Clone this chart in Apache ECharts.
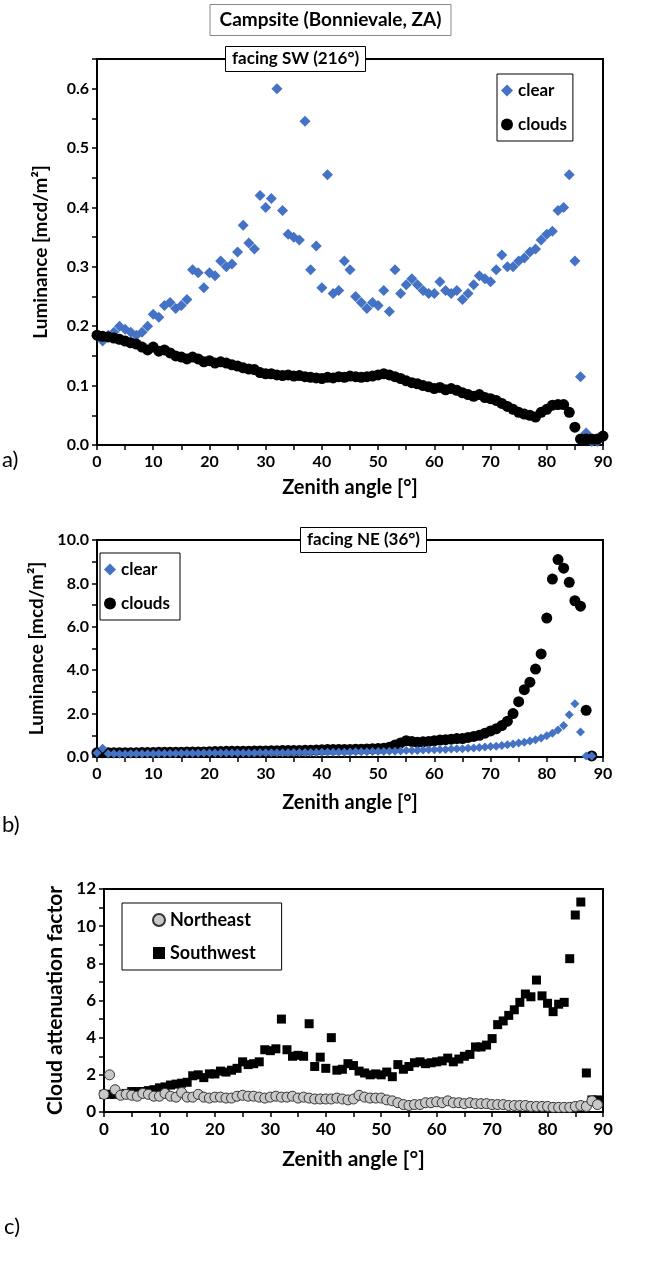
<!DOCTYPE html>
<html>
<head>
<meta charset="utf-8">
<script src="https://cdn.jsdelivr.net/npm/echarts@6/dist/echarts.min.js"></script>
<style>
html,body{margin:0;padding:0;background:#fff;}
#chart{width:661px;height:1273px;}
</style>
</head>
<body>
<div id="chart"></div>
<script>
// Zenith angles (degrees)
const angles = [0,1,2,3,4,5,6,7,8,9,10,11,12,13,14,15,16,17,18,19,20,21,22,23,24,25,26,27,28,29,30,31,32,33,34,35,36,37,38,39,40,41,42,43,44,45,46,47,48,49,50,51,52,53,54,55,56,57,58,59,60,61,62,63,64,65,66,67,68,69,70,71,72,73,74,75,76,77,78,79,80,81,82,83,84,85,86,87,88,89,90];

// a) facing SW – luminance [mcd/m²]
const swClear = [null,0.175,0.185,0.19,0.20,0.195,0.19,0.185,0.19,0.20,0.22,0.215,0.235,0.24,0.23,0.235,0.245,0.295,0.29,0.265,0.29,0.285,0.31,0.30,0.305,0.325,0.37,0.34,0.33,0.42,0.40,0.415,0.60,0.395,0.355,0.35,0.345,0.545,0.295,0.335,0.265,0.455,0.255,0.26,0.31,0.295,0.25,0.24,0.23,0.24,0.235,0.26,0.225,0.295,0.255,0.27,0.28,0.27,0.26,0.255,0.255,0.275,0.26,0.255,0.26,0.245,0.255,0.27,0.285,0.28,0.275,0.295,0.32,0.30,0.30,0.31,0.315,0.325,0.33,0.345,0.355,0.36,0.395,0.40,0.455,0.31,0.115,0.02,0.006,0.006,null];
const swClouds = [0.185,0.183,0.182,0.18,0.178,0.175,0.172,0.17,0.165,0.16,0.165,0.158,0.16,0.155,0.15,0.148,0.145,0.148,0.145,0.14,0.142,0.138,0.14,0.138,0.135,0.133,0.13,0.128,0.127,0.122,0.12,0.12,0.118,0.117,0.118,0.116,0.117,0.115,0.114,0.113,0.112,0.114,0.113,0.115,0.114,0.116,0.115,0.114,0.115,0.116,0.118,0.12,0.118,0.115,0.112,0.108,0.105,0.103,0.10,0.098,0.095,0.097,0.093,0.095,0.092,0.088,0.085,0.082,0.085,0.08,0.078,0.075,0.07,0.065,0.06,0.055,0.052,0.05,0.047,0.055,0.06,0.067,0.068,0.068,0.055,0.03,0.01,0.01,0.01,0.01,0.015];

// b) facing NE – luminance [mcd/m²]
const neClear = [0.18,0.40,0.15,0.15,0.14,0.14,0.15,0.15,0.15,0.15,0.15,0.16,0.16,0.16,0.16,0.17,0.17,0.17,0.17,0.18,0.18,0.18,0.18,0.18,0.19,0.19,0.19,0.19,0.19,0.2,0.2,0.2,0.2,0.2,0.2,0.21,0.21,0.21,0.21,0.21,0.22,0.22,0.22,0.22,0.22,0.23,0.24,0.24,0.24,0.25,0.25,0.25,0.26,0.27,0.28,0.30,0.30,0.30,0.32,0.33,0.33,0.35,0.35,0.37,0.38,0.38,0.40,0.42,0.44,0.46,0.48,0.50,0.53,0.56,0.60,0.64,0.68,0.74,0.80,0.88,0.98,1.10,1.25,1.45,1.95,2.45,1.15,0.05,0.05,null,null];
const neClouds = [0.2,0.2,0.2,0.2,0.2,0.2,0.2,0.2,0.21,0.21,0.21,0.22,0.22,0.22,0.22,0.22,0.23,0.23,0.23,0.23,0.24,0.25,0.25,0.26,0.26,0.26,0.27,0.27,0.28,0.28,0.28,0.29,0.29,0.3,0.3,0.3,0.3,0.31,0.31,0.32,0.33,0.34,0.34,0.35,0.35,0.35,0.36,0.36,0.37,0.38,0.39,0.40,0.45,0.55,0.65,0.75,0.72,0.68,0.70,0.72,0.75,0.78,0.80,0.82,0.85,0.85,0.90,0.95,1.0,1.1,1.2,1.3,1.45,1.65,2.0,2.55,3.1,3.45,4.05,4.75,6.4,8.2,9.1,8.7,8.05,7.2,6.95,2.15,0.05,null,null];

// c) cloud attenuation factor
const attNE = [0.95,2.0,1.2,0.9,0.95,0.9,0.85,1.0,0.95,0.85,0.85,1.0,0.85,0.8,1.05,0.8,0.8,0.95,0.8,0.75,0.8,0.8,0.75,0.75,0.85,0.9,0.85,0.85,0.8,0.75,0.8,0.85,0.8,0.8,0.85,0.75,0.8,0.75,0.7,0.7,0.7,0.7,0.75,0.7,0.65,0.7,0.9,0.8,0.75,0.75,0.75,0.65,0.6,0.5,0.4,0.35,0.4,0.4,0.5,0.5,0.55,0.5,0.6,0.5,0.5,0.45,0.5,0.45,0.45,0.45,0.4,0.4,0.4,0.35,0.35,0.35,0.35,0.3,0.3,0.3,0.3,0.25,0.25,0.25,0.25,0.3,0.35,0.3,0.6,0.4,null];
const attSW = [0.95,0.95,0.95,0.95,1.0,1.1,1.1,1.1,1.15,1.2,1.3,1.35,1.45,1.5,1.55,1.6,1.95,2.0,1.85,2.05,2.05,2.2,2.15,2.25,2.35,2.7,2.55,2.6,2.7,3.35,3.3,3.4,5.0,3.35,3.0,3.05,3.0,4.75,2.45,2.95,2.35,4.0,2.25,2.3,2.6,2.5,2.2,2.1,2.0,2.05,2.0,2.15,1.9,2.55,2.3,2.45,2.65,2.7,2.6,2.65,2.7,2.75,2.9,2.7,2.85,3.0,3.1,3.5,3.5,3.6,3.95,4.7,4.9,5.2,5.5,5.9,6.35,6.2,7.1,6.25,5.85,5.4,5.8,5.9,8.25,10.6,11.3,2.1,0.65,0.65,null];

const xTicks = [0,10,20,30,40,50,60,70,80,90];

function pairs(vals){ return angles.map((a,i)=>[a, vals[i]]).filter(p=>p[1]!==null && p[1]!==undefined); }

const FONT = 'Lato';
const blue = '#4472C4';

function xAxisCfg(gi, fs, nameFs, nameGap){
  return {
    gridIndex: gi, type:'value', min:0, max:90, interval:5,
    name:'Zenith angle [°]', nameLocation:'middle', nameGap:nameGap,
    nameTextStyle:{fontFamily:FONT, fontWeight:'bold', fontSize:nameFs, color:'#000'},
    axisLine:{show:true, onZero:false, lineStyle:{color:'#000', width:2}},
    axisTick:{show:true, inside:false, length:5, lineStyle:{color:'#000', width:1.5}},
    axisLabel:{fontFamily:FONT, fontWeight:'bold', fontSize:fs, color:'#000', margin:9,
      formatter:v=> xTicks.indexOf(v)>=0 ? String(v) : ''},
    splitLine:{show:false}
  };
}
function yAxisCfg(gi, max, interval, labelEvery, dec, name, fs, nameFs, nameGap){
  return {
    gridIndex: gi, type:'value', min:0, max:max, interval:interval,
    name:name, nameLocation:'middle', nameGap:nameGap,
    nameTextStyle:{fontFamily:FONT, fontWeight:'bold', fontSize:nameFs, color:'#000'},
    axisLine:{show:true, onZero:false, lineStyle:{color:'#000', width:2}},
    axisTick:{show:true, inside:false, length:5, lineStyle:{color:'#000', width:1.5}},
    axisLabel:{fontFamily:FONT, fontWeight:'bold', fontSize:fs, color:'#000', margin:8,
      formatter:v=>{ const k=Math.round(v/interval); return (k % labelEvery===0) ? v.toFixed(dec) : ''; }},
    splitLine:{show:false}
  };
}

const chart = echarts.init(document.getElementById('chart'), null, {renderer:'canvas'});
chart.setOption({
  animation:false,
  backgroundColor:'#fff',
  title:[
    {text:'Campsite (Bonnievale, ZA)', left:'center', top:4, padding:[6,10,7,10],
     borderColor:'#888', borderWidth:1, backgroundColor:'#fff',
     textStyle:{fontFamily:FONT, fontWeight:'bold', fontSize:19, color:'#000'}},
    {text:'facing SW (216°)', left:225, top:46, padding:[4,7,5,7],
     borderColor:'#000', borderWidth:1, backgroundColor:'#fff',
     textStyle:{fontFamily:FONT, fontWeight:'bold', fontSize:17, color:'#000'}},
    {text:'facing NE (36°)', left:300, top:527, padding:[4,7,5,7],
     borderColor:'#000', borderWidth:1, backgroundColor:'#fff',
     textStyle:{fontFamily:FONT, fontWeight:'bold', fontSize:17, color:'#000'}}
  ],
  legend:[
    {data:['clear','clouds'], orient:'vertical', left:497, top:74, itemGap:17,
     itemWidth:12, itemHeight:12, borderColor:'#000', borderWidth:1, padding:[8,6,8,4], backgroundColor:'#fff',
     textStyle:{fontFamily:FONT, fontWeight:'bold', fontSize:17, color:'#000'}},
    {data:['clear ','clouds '], orient:'vertical', left:100, top:553, itemGap:17,
     itemWidth:12, itemHeight:12, borderColor:'#000', borderWidth:1, padding:[8,6,8,4], backgroundColor:'#fff',
     textStyle:{fontFamily:FONT, fontWeight:'bold', fontSize:17, color:'#000'}},
    {data:['Northeast','Southwest'], orient:'vertical', left:122, top:903, itemGap:15,
     itemWidth:12, itemHeight:12, borderColor:'#000', borderWidth:1, padding:[8,26,8,30], backgroundColor:'#fff',
     textStyle:{fontFamily:FONT, fontWeight:'bold', fontSize:18, color:'#000'}}
  ],
  grid:[
    {left:97, top:59, width:506, height:386, show:true, borderColor:'#000', borderWidth:2, backgroundColor:'transparent'},
    {left:97, top:540, width:506, height:217, show:true, borderColor:'#000', borderWidth:2, backgroundColor:'transparent'},
    {left:104, top:889, width:499, height:223, show:true, borderColor:'#000', borderWidth:2, backgroundColor:'transparent'}
  ],
  xAxis:[
    xAxisCfg(0, 16, 20, 33),
    xAxisCfg(1, 16, 20, 36),
    xAxisCfg(2, 17, 21, 37)
  ],
  yAxis:[
    yAxisCfg(0, 0.65, 0.05, 2, 1, 'Luminance [mcd/m²]', 16, 19, 47),
    yAxisCfg(1, 10, 1, 2, 1, 'Luminance [mcd/m²]', 16, 19, 50),
    yAxisCfg(2, 12, 1, 2, 0, 'Cloud attenuation factor', 17, 21, 38)
  ],
  graphic:[
    {type:'text', left:2, top:449, style:{text:'a)', fontFamily:FONT, fontSize:22, fill:'#000'}},
    {type:'text', left:2, top:814, style:{text:'b)', fontFamily:FONT, fontSize:22, fill:'#000'}},
    {type:'text', left:4, top:1216, style:{text:'c)', fontFamily:FONT, fontSize:22, fill:'#000'}}
  ],
  series:[
    {name:'clear', type:'scatter', xAxisIndex:0, yAxisIndex:0, data:pairs(swClear),
     symbol:'diamond', symbolSize:11, itemStyle:{color:blue, opacity:1}, z:2},
    {name:'clouds', type:'scatter', xAxisIndex:0, yAxisIndex:0, data:pairs(swClouds),
     symbol:'circle', symbolSize:11, itemStyle:{color:'#000', opacity:1}, z:3},
    {name:'clouds ', type:'scatter', xAxisIndex:1, yAxisIndex:1, data:pairs(neClouds),
     symbol:'circle', symbolSize:11, itemStyle:{color:'#000', opacity:1}, z:2},
    {name:'clear ', type:'scatter', xAxisIndex:1, yAxisIndex:1, data:pairs(neClear),
     symbol:'diamond', symbolSize:9, itemStyle:{color:blue, opacity:1}, z:3},
    {name:'Northeast', type:'scatter', xAxisIndex:2, yAxisIndex:2, data:pairs(attNE),
     symbol:'circle', symbolSize:10, itemStyle:{color:'#c8c8c8', borderColor:'#333', borderWidth:1, opacity:1}, z:3},
    {name:'Southwest', type:'scatter', xAxisIndex:2, yAxisIndex:2, data:pairs(attSW),
     symbol:'rect', symbolSize:9, itemStyle:{color:'#000', opacity:1}, z:2}
  ]
});
</script>
</body>
</html>
